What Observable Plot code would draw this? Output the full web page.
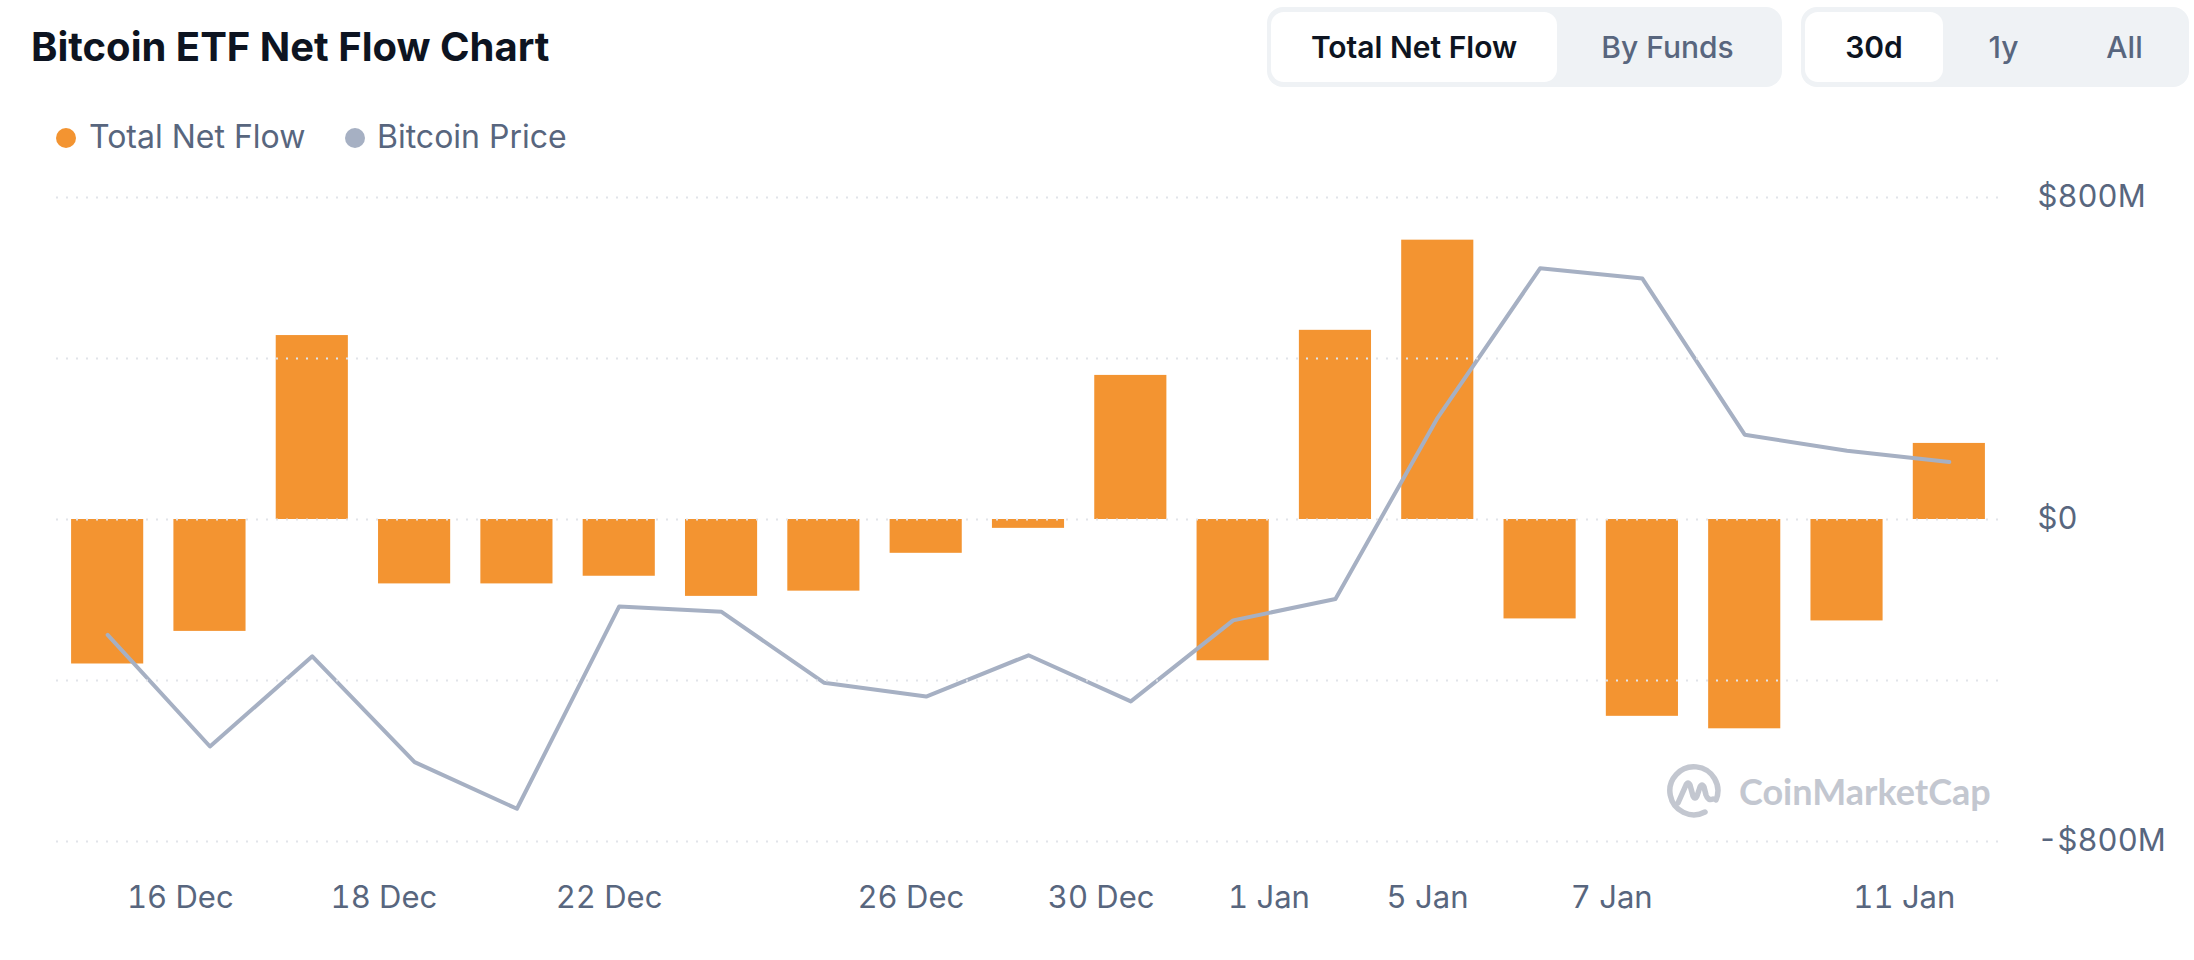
<!DOCTYPE html>
<html>
<head>
<meta charset="utf-8">
<script src="https://cdn.jsdelivr.net/npm/d3@7"></script>
<script src="https://cdn.jsdelivr.net/npm/@observablehq/plot@0.6"></script>
<style>
  body { margin: 0; background: #fff; font-family: Inter, "Noto Sans", sans-serif; }
  #page { position: relative; width: 2194px; height: 960px; overflow: hidden; background: #fff; }
  .abs { position: absolute; white-space: nowrap; }
  #title { left: 31px; top: 27px; font-size: 40px; line-height: 40px; font-weight: 700; color: #0d1421; }
  .legtext { font-size: 32px; line-height: 32px; color: #58667e; top: 121px; }
  .dot { width: 20px; height: 20px; border-radius: 50%; top: 128px; }
  .group { top: 7px; height: 80px; background: #eff2f5; border-radius: 16px; }
  .btn { position: absolute; top: 5px; height: 70px; display: flex; align-items: center; justify-content: center; font-size: 30px; color: #58667e; font-weight: 500; }
  .btn.active { background: #fff; border-radius: 13px; color: #0d1421; font-weight: 600; }
  #chart { position: absolute; left: 0; top: 170px; }
  #wm { position: absolute; left: 1665px; top: 763px; z-index: 5; }
</style>
</head>
<body>
<div id="page">
  <div id="title" class="abs">Bitcoin ETF Net Flow Chart</div>

  <div class="abs dot" style="left:56px;background:#f39431"></div>
  <div class="abs legtext" style="left:89px">Total Net Flow</div>
  <div class="abs dot" style="left:345px;background:#a6b0c3"></div>
  <div class="abs legtext" style="left:377px">Bitcoin Price</div>

  <div class="abs group" style="left:1267px;width:515px">
    <div class="btn active" style="left:4px;width:286px">Total Net Flow</div>
    <div class="btn" style="left:290px;width:221px">By Funds</div>
  </div>
  <div class="abs group" style="left:1801px;width:388px">
    <div class="btn active" style="left:4px;width:138px">30d</div>
    <div class="btn" style="left:142px;width:121px">1y</div>
    <div class="btn" style="left:263px;width:121px">All</div>
  </div>

  <div id="chart"></div>

  <svg id="wm" width="350" height="60" viewBox="0 0 350 60">
    <g fill="none" stroke="#c3c7d0" stroke-width="5.5" stroke-linecap="round" stroke-linejoin="round">
      <path d="M40 49 A24 24 0 1 1 51 37"/>
      <path d="M13 40 L21 22 Q23 18 25 22 L28 33 Q30 37 32 33 L35 24 Q37 20 39 24 L41 32 Q43 38 48 36"/>
    </g>
    <text x="74" y="42" font-family="Lato, 'Open Sans', sans-serif" font-weight="700" font-size="36" fill="#c3c7d0">CoinMarketCap</text>
  </svg>
</div>

<script>
// ---- data ----
const dates = ["2025-12-15","2025-12-16","2025-12-17","2025-12-18","2025-12-19",
               "2025-12-22","2025-12-23","2025-12-24","2025-12-26","2025-12-29",
               "2025-12-30","2025-12-31","2026-01-02","2026-01-05","2026-01-06",
               "2026-01-07","2026-01-08","2026-01-09","2026-01-12"];
// Total net flow, millions of USD
const netFlow = [-359, -278, 457, -160, -160, -141, -191, -178, -84, -22,
                 358, -351, 470, 694, -247, -489, -520, -252, 189];
// Bitcoin price, USD (secondary, hidden scale)
const btcPrice = [87850, 85770, 87450, 85480, 84610, 88380, 88280, 86960, 86700, 87470,
                  86610, 88120, 88520, 91900, 94680, 94490, 91580, 91280, 91070];
// x-axis tick labels and where they sit (in trading-day index units)
const tickPositions = [0.71, 2.70, 4.90, 7.85, 9.71, 11.35, 12.90, 14.70, 17.56];
const tickLabels = ["16 Dec","18 Dec","22 Dec","26 Dec","30 Dec","1 Jan","5 Jan","7 Jan","11 Jan"];
// y-axis
const yTicks = [-800, 0, 800];
const yTickLabels = ["-$800M", "$0", "$800M"];
const gridValues = [-800, -400, 0, 400, 800];
const priceDomain = [84000, 96000];

// ---- build ----
const data = dates.map((d, i) => ({i, date: d, flow: netFlow[i], price: btcPrice[i]}));
const yDomain = [-800, 800];
const priceToFlowUnits = d3.scaleLinear().domain(priceDomain).range(yDomain);
const halfBar = 0.3525;

const chart = Plot.plot({
  width: 2194,
  height: 770,
  marginTop: 27,
  marginBottom: 99,
  marginLeft: 56,
  marginRight: 194,
  style: {fontFamily: "Inter, 'Noto Sans', sans-serif", fontSize: "31px", color: "#58667e", background: "#fff", overflow: "visible"},
  x: {type: "linear", domain: [-0.5, dates.length - 0.5]},
  y: {domain: yDomain},
  marks: [
    Plot.rectY(data, {x1: d => d.i - halfBar, x2: d => d.i + halfBar, y1: 0, y2: "flow", fill: "#f39431"}),
    Plot.line(data, {x: "i", y: d => priceToFlowUnits(d.price), stroke: "#a6b0c3", strokeWidth: 4, strokeLinejoin: "round", strokeLinecap: "round"}),
    Plot.ruleY(gridValues, {stroke: "#e1e4e9", strokeWidth: 2, strokeDasharray: "2,8"}),
    Plot.axisX({ticks: tickPositions, tickFormat: (d, i) => tickLabels[i], tickSize: 0, tickPadding: 44, label: null, fontSize: 31}),
    Plot.axisY({anchor: "right", ticks: yTicks, tickFormat: (d) => yTickLabels[yTicks.indexOf(d)], tickSize: 0, tickPadding: 37, label: null, fontSize: 31})
  ]
});
document.getElementById("chart").appendChild(chart);
</script>
</body>
</html>
